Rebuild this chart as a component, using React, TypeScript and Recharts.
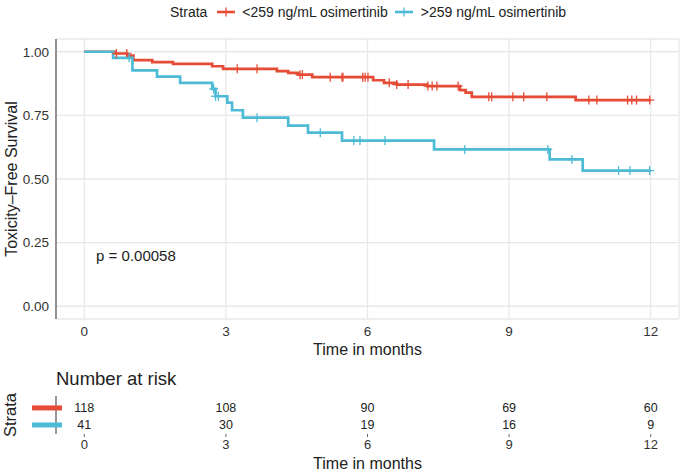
import React from "react";
import { ComposedChart, Line, Scatter, XAxis, YAxis, CartesianGrid, Label } from "recharts";

const RED = "#E64B35";
const BLUE = "#4DBBD5";
const FONT = "'Liberation Sans', Arial, sans-serif";

// <259 ng/mL group: step times (months) and survival after each step
const lowTimes = [0, 0.66, 0.91, 1.04, 1.44, 1.88, 2.71, 2.94, 4.08, 4.32, 4.53, 4.83, 6.12, 6.35, 6.62, 7.26, 7.96, 8.08, 8.21, 10.41, 12];
const lowSurv = [1, 0.993, 0.985, 0.967, 0.959, 0.952, 0.943, 0.933, 0.924, 0.917, 0.91, 0.9, 0.888, 0.878, 0.871, 0.865, 0.849, 0.839, 0.823, 0.81, 0.81];
const lowCensor = [0.68, 0.9, 3.24, 3.66, 4.57, 4.62, 5.21, 5.46, 5.48, 5.9, 5.95, 6.01, 6.46, 6.62, 6.86, 7.28, 7.37, 7.47, 7.92, 8.57, 8.63, 9.08, 9.31, 9.8, 10.69, 10.86, 11.51, 11.6, 11.7, 11.98];

// >259 ng/mL group
const highTimes = [0, 0.61, 1.02, 1.54, 2.03, 2.71, 2.78, 3.03, 3.13, 3.36, 4.32, 4.74, 5.46, 7.41, 9.86, 10.56, 12];
const highSurv = [1, 0.976, 0.927, 0.902, 0.878, 0.854, 0.825, 0.8, 0.77, 0.741, 0.71, 0.682, 0.651, 0.616, 0.577, 0.533, 0.533];
const highCensor = [0.95, 2.74, 2.78, 2.84, 3.66, 5.0, 5.71, 5.84, 6.37, 8.06, 9.82, 10.33, 11.32, 11.56, 11.98];

const xTicks = [0, 3, 6, 9, 12];
const yTicks = [0, 0.25, 0.5, 0.75, 1];

const riskTimes = [0, 3, 6, 9, 12];
const lowRisk = [118, 108, 90, 69, 60];
const highRisk = [41, 30, 19, 16, 9];

const strataNames = ["<259 ng/mL osimertinib", ">259 ng/mL osimertinib"];
const pValue = "p = 0.00058";

function survAt(times: number[], surv: number[], t: number) {
  let s = surv[0];
  for (let i = 0; i < times.length; i++) if (times[i] <= t) s = surv[i];
  return s;
}

const lowData = lowTimes.map((t, i) => ({ t, s: lowSurv[i] }));
const highData = highTimes.map((t, i) => ({ t, s: highSurv[i] }));
const lowCens = lowCensor.map((t) => ({ t, s: survAt(lowTimes, lowSurv, t) }));
const highCens = highCensor.map((t) => ({ t, s: survAt(highTimes, highSurv, t) }));

const riskRows = [
  ...riskTimes.map((t, i) => ({ t, row: 1, n: lowRisk[i] })),
  ...riskTimes.map((t, i) => ({ t, row: 0, n: highRisk[i] })),
];

const plus = (color: string) => (p: any) => (
  <g>
    <line x1={p.cx} x2={p.cx} y1={p.cy - 4.5} y2={p.cy + 4.5} stroke={color} strokeWidth={1.3} />
    <line x1={p.cx - 4.5} x2={p.cx + 4.5} y1={p.cy} y2={p.cy} stroke={color} strokeWidth={1.3} />
  </g>
);

const LegendKey = ({ color }: { color: string }) => (
  <svg width={18} height={14} style={{ display: "block" }}>
    <line x1={0} x2={18} y1={7} y2={7} stroke={color} strokeWidth={2.6} />
    <line x1={9} x2={9} y1={2.5} y2={11.5} stroke={color} strokeWidth={1.3} />
  </svg>
);

export default function App() {
  return (
    <div style={{ position: "absolute", left: 0, top: 0, width: 680, height: 472, background: "#fff", fontFamily: FONT, color: "#222" }}>
      <div style={{ position: "absolute", top: 4, left: 170, display: "flex", alignItems: "center", fontSize: 14, lineHeight: "16px" }}>
        <span>Strata</span>
        <span style={{ marginLeft: 10 }}><LegendKey color={RED} /></span>
        <span style={{ marginLeft: 7 }}>{strataNames[0]}</span>
        <span style={{ marginLeft: 7 }}><LegendKey color={BLUE} /></span>
        <span style={{ marginLeft: 8 }}>{strataNames[1]}</span>
      </div>

      <div style={{ position: "absolute", top: 0, left: 0 }}>
        <ComposedChart width={680} height={360} margin={{ top: 39, right: 1, bottom: 0, left: 0 }}>
          <CartesianGrid stroke="#e8e8e8" strokeWidth={1.3} />
          <XAxis type="number" dataKey="t" domain={[-0.6, 12.6]} ticks={xTicks} axisLine={false} tickLine={false}
            tickSize={0} tickMargin={7} height={41} interval={0} tick={{ fontSize: 13.5, fill: "#333", fontFamily: FONT }}>
            <Label value="Time in months" position="insideBottom" offset={5} style={{ fontSize: 16, fill: "#222", fontFamily: FONT }} />
          </XAxis>
          <YAxis type="number" dataKey="s" domain={[-0.05, 1.05]} ticks={yTicks} tickFormatter={(v: number) => v.toFixed(2)}
            width={56} axisLine={{ stroke: "#444", strokeWidth: 1.1 }} tickLine={false} tickSize={0} tickMargin={7} interval={0}
            tick={{ fontSize: 13.5, fill: "#333", fontFamily: FONT }}>
            <Label content={(p: any) => {
              const cy = p.viewBox.y + p.viewBox.height / 2;
              return (
                <text x={11} y={cy} transform={`rotate(-90, 11, ${cy})`} textAnchor="middle" dominantBaseline="central"
                  style={{ fontSize: 16, fill: "#222", fontFamily: FONT }}>Toxicity–Free Survival</text>
              );
            }} />
          </YAxis>
          <Line data={lowData} dataKey="s" type="stepAfter" stroke={RED} strokeWidth={2.7} dot={false} activeDot={false} isAnimationActive={false} />
          <Scatter data={lowCens} dataKey="s" shape={plus(RED)} isAnimationActive={false} />
          <Line data={highData} dataKey="s" type="stepAfter" stroke={BLUE} strokeWidth={2.7} dot={false} activeDot={false} isAnimationActive={false} />
          <Scatter data={highCens} dataKey="s" shape={plus(BLUE)} isAnimationActive={false} />
          <Scatter data={[{ t: 0.25, s: 0.2 }]} dataKey="s" isAnimationActive={false}
            shape={(p: any) => (
              <text x={p.cx} y={p.cy} textAnchor="start" dominantBaseline="central" style={{ fontSize: 15, fill: "#222", fontFamily: FONT }}>{pValue}</text>
            )} />
        </ComposedChart>
      </div>

      <div style={{ position: "absolute", top: 369, left: 56, fontSize: 18.5, lineHeight: "20px" }}>Number at risk</div>

      <div style={{ position: "absolute", top: 360, left: 0 }}>
        <ComposedChart width={680} height={112} margin={{ top: 36, right: 1, bottom: 0, left: 0 }}>
          <XAxis type="number" dataKey="t" domain={[-0.6, 12.6]} ticks={xTicks} axisLine={false} interval={0}
            tickLine={{ stroke: "#666" }} tickSize={3} tickMargin={3} height={38} tick={{ fontSize: 13, fill: "#333", fontFamily: FONT }}>
            <Label value="Time in months" position="insideBottom" offset={3} style={{ fontSize: 16, fill: "#222", fontFamily: FONT }} />
          </XAxis>
          <YAxis type="number" dataKey="row" domain={[-0.53, 1.7]} ticks={[0, 1]} width={56} interval={0}
            axisLine={{ stroke: "#444", strokeWidth: 1.1 }} tickLine={false} tickSize={0} tickMargin={0}
            tick={(p: any) => (
              <line x1={p.x - 24} x2={p.x + 6} y1={p.y} y2={p.y} stroke={p.payload.value === 1 ? RED : BLUE} strokeWidth={5} />
            )}>
            <Label content={(p: any) => {
              const cy = p.viewBox.y + p.viewBox.height / 2;
              return (
                <text x={10} y={cy} transform={`rotate(-90, 10, ${cy})`} textAnchor="middle" dominantBaseline="central"
                  style={{ fontSize: 16.5, fill: "#222", fontFamily: FONT }}>Strata</text>
              );
            }} />
          </YAxis>
          <Scatter data={riskRows} dataKey="row" isAnimationActive={false}
            shape={(p: any) => (
              <text x={p.cx} y={p.cy} textAnchor="middle" dominantBaseline="central" style={{ fontSize: 12.5, fill: "#222", fontFamily: FONT }}>{p.payload.n}</text>
            )} />
        </ComposedChart>
      </div>
    </div>
  );
}
